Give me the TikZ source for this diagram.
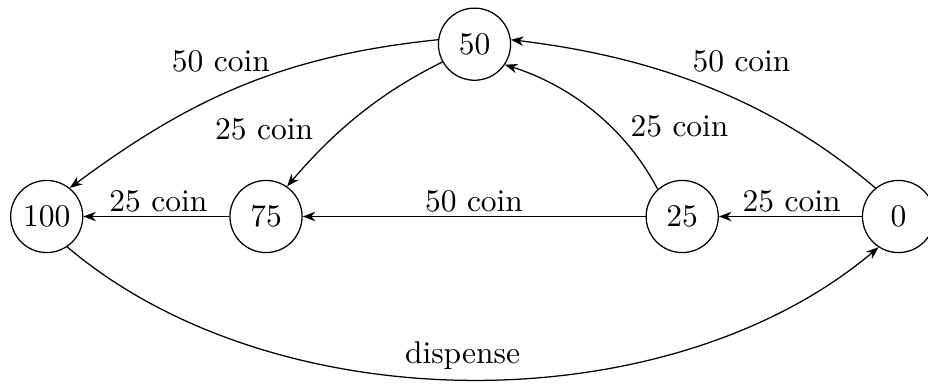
\documentclass[tikz,border=0pt]{standalone}
\usetikzlibrary{arrows.meta}
\begin{document}
\begin{tikzpicture}[x=0.3175pt,y=0.3175pt,
  state/.style={circle,draw,line width=0.4pt,minimum size=22.9pt,inner sep=0pt},
  trans/.style={line width=0.4pt,-{Stealth[length=4pt,width=3pt]}},
  lbl/.style={inner sep=0pt,anchor=base}]
\useasboundingbox (0,0) rectangle (928,383);
\node[state] (s100) at (46.7,166.5) {100};
\node[state] (s75)  at (266,166.5) {75};
\node[state] (s50)  at (474.5,338.8) {50};
\node[state] (s25)  at (682.2,166.5) {25};
\node[state] (s0)   at (898.5,166.5) {0};
% straight transitions
\draw[trans] (s75) -- (s100);
\draw[trans] (s25) -- (s75);
\draw[trans] (s0) -- (s25);
% curved transitions
\draw[trans] (s0.129.2) .. controls (775.4,279.9) and (660.6,325.4) .. (s50.7.5);
\draw[trans] (s25.132) .. controls (625.5,255) and (571.4,297.1) .. (s50.-34.5);
\draw[trans] (s50.209.4) .. controls (379.3,289.8) and (334.5,252.2) .. (s75.55);
\draw[trans] (s50.173.4) .. controls (279.1,327) and (186.7,281.6) .. (s100.51.3);
\draw[trans] (s100.-56.5) .. controls (276,-41) and (669,-41) .. (s0.-123);
% labels
\node[lbl] (l1) at (158.3,171.3) {25 coin};
\node[lbl] (l2) at (474,171.3) {50 coin};
\node[lbl] (l3) at (791.7,171.3) {25 coin};
\node[lbl] (l4) at (741.5,311.3) {50 coin};
\node[lbl] (l5) at (679.5,246.3) {25 coin};
\node[lbl] (l6) at (264.2,243) {25 coin};
\node[lbl] (l7) at (220.8,311.3) {50 coin};
\node[lbl] (l8) at (462.5,19.7) {dispense};
\end{tikzpicture}
\end{document}
